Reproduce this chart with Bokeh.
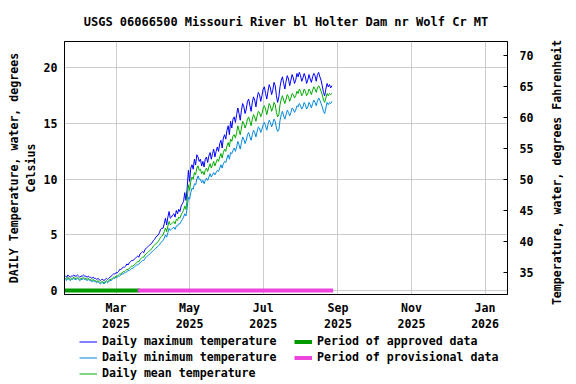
import pandas as pd
from bokeh.plotting import figure
from bokeh.layouts import column, row
from bokeh.models import (Range1d, LinearAxis, FixedTicker, Legend, LegendItem,
                          ColumnDataSource, Title)
from bokeh.embed import file_html
from bokeh.resources import INLINE

TITLE = "USGS 06066500 Missouri River bl Holter Dam nr Wolf Cr MT"
RIGHT_LABEL = "Temperature, water, degrees Fahrenheit"
LEFT_LABEL = "DAILY Temperature, water, degrees\nCelsius"
FIRST_DAY = "2025-01-18"

max_temp = [
    1.3, 1.2, 1.4, 1.3, 1.2, 1.3, 1.3,
    1.4, 1.3, 1.3, 1.4, 1.3, 1.2, 1.3,
    1.3, 1.4, 1.3, 1.3, 1.2, 1.3, 1.2,
    1.2, 1.1, 1.2, 1.1, 1.1, 1.0, 1.1,
    1.0, 0.9, 1.0, 1.0, 0.9, 1.0, 1.1,
    1.0, 1.1, 1.2, 1.3, 1.4, 1.5, 1.5,
    1.6, 1.6, 1.7, 1.9, 1.9, 2.0, 2.1,
    2.1, 2.2, 2.4, 2.3, 2.5, 2.6, 2.7,
    2.7, 2.8, 2.9, 3.0, 3.1, 3.0, 3.3,
    3.4, 3.5, 3.4, 3.7, 3.8, 3.9, 4.0,
    4.1, 4.2, 4.3, 4.5, 4.6, 4.8, 4.9,
    5.0, 5.2, 5.5, 5.6, 5.6, 6.0, 6.5,
    5.9, 6.6, 7.1, 6.5, 6.6, 6.8, 6.9,
    6.6, 7.2, 6.9, 7.3, 7.1, 7.6, 7.8,
    8.0, 8.8, 8.1, 9.2, 10.8, 9.8, 11.0,
    11.3, 10.9, 11.8, 11.3, 12.2, 12.0, 11.6,
    11.8, 11.2, 11.6, 11.1, 11.8, 12.0, 11.5,
    12.1, 12.4, 11.8, 12.3, 12.7, 12.0, 12.5,
    12.9, 12.5, 13.2, 13.5, 12.8, 13.7, 14.0,
    13.6, 14.4, 14.8, 14.0, 15.2, 14.6, 15.4,
    15.6, 15.1, 15.8, 16.4, 15.9, 15.3, 16.2,
    16.8, 16.5, 15.9, 16.3, 17.0, 17.2, 16.6,
    16.1, 16.9, 17.4, 17.1, 16.5, 17.3, 17.8,
    17.6, 17.0, 17.5, 18.1, 18.3, 17.7, 17.2,
    17.9, 18.5, 18.2, 17.6, 18.0, 18.7, 18.4,
    17.5, 16.9, 17.4, 18.3, 18.9, 19.2, 18.6,
    18.1, 18.8, 19.3, 19.0, 18.4, 18.9, 19.4,
    19.1, 18.6, 18.9, 19.5, 19.2, 19.6, 19.3,
    18.8, 19.1, 19.5, 19.2, 18.6, 18.9, 19.4,
    19.0, 18.7, 19.2, 19.5, 19.3, 18.8, 19.4,
    19.6, 19.2, 18.9, 18.4, 17.8, 17.5, 18.1,
    18.6, 18.3, 18.5, 18.2, 18.4,
]

min_temp = [
    1.0, 0.9, 1.1, 1.0, 0.9, 1.0, 1.0,
    1.1, 1.0, 1.0, 1.1, 1.0, 0.9, 1.0,
    1.0, 1.1, 1.0, 1.0, 0.9, 1.0, 0.9,
    0.9, 0.8, 0.9, 0.8, 0.8, 0.7, 0.8,
    0.7, 0.6, 0.7, 0.7, 0.6, 0.7, 0.8,
    0.7, 0.8, 0.9, 0.9, 1.0, 1.1, 1.1,
    1.2, 1.2, 1.3, 1.3, 1.4, 1.5, 1.5,
    1.6, 1.6, 1.7, 1.8, 1.8, 1.9, 2.0,
    2.0, 2.1, 2.2, 2.3, 2.3, 2.4, 2.5,
    2.6, 2.7, 2.7, 2.9, 3.0, 3.1, 3.2,
    3.3, 3.4, 3.5, 3.6, 3.7, 3.8, 3.9,
    4.0, 4.1, 4.3, 4.4, 4.5, 4.7, 5.0,
    4.8, 5.2, 5.6, 5.4, 5.5, 5.6, 5.7,
    5.5, 5.8, 5.8, 6.0, 6.0, 6.2, 6.4,
    6.6, 6.9, 6.7, 7.4, 8.4, 8.2, 8.8,
    9.2, 9.1, 9.6, 9.5, 10.0, 10.3, 10.0,
    10.0, 9.7, 9.9, 9.6, 9.9, 10.1, 9.9,
    10.2, 10.5, 10.2, 10.4, 10.6, 10.4, 10.6,
    10.8, 10.7, 11.0, 11.3, 11.0, 11.4, 11.6,
    11.5, 11.9, 12.2, 11.8, 12.4, 12.3, 12.6,
    12.8, 12.5, 12.9, 13.4, 13.1, 12.7, 13.3,
    13.8, 13.6, 13.2, 13.5, 14.0, 14.2, 13.8,
    13.5, 14.0, 14.4, 14.2, 13.8, 14.3, 14.7,
    14.6, 14.2, 14.5, 14.9, 15.1, 14.8, 14.4,
    14.9, 15.3, 15.1, 14.7, 15.0, 15.4, 15.2,
    14.6, 14.3, 14.4, 15.3, 15.8, 16.1, 15.7,
    15.4, 15.8, 16.2, 16.0, 15.7, 16.0, 16.4,
    16.3, 16.0, 16.2, 16.6, 16.5, 16.8, 16.6,
    16.3, 16.5, 16.9, 16.7, 16.3, 16.5, 16.9,
    16.7, 16.4, 16.8, 17.1, 16.9, 16.6, 17.0,
    17.3, 17.1, 16.8, 16.5, 16.1, 15.9, 16.4,
    16.9, 16.7, 16.9, 16.8, 17.0,
]

mean_temp = [
    1.1, 1.0, 1.2, 1.1, 1.0, 1.1, 1.1,
    1.2, 1.1, 1.1, 1.2, 1.1, 1.0, 1.1,
    1.1, 1.2, 1.1, 1.1, 1.0, 1.1, 1.0,
    1.0, 0.9, 1.0, 0.9, 0.9, 0.8, 0.9,
    0.8, 0.7, 0.8, 0.8, 0.7, 0.8, 0.9,
    0.8, 0.9, 1.0, 1.0, 1.1, 1.2, 1.2,
    1.3, 1.3, 1.4, 1.5, 1.5, 1.6, 1.7,
    1.7, 1.8, 1.9, 1.9, 2.0, 2.1, 2.2,
    2.2, 2.3, 2.4, 2.5, 2.6, 2.6, 2.8,
    2.9, 3.0, 3.0, 3.2, 3.3, 3.4, 3.5,
    3.6, 3.7, 3.8, 4.0, 4.1, 4.2, 4.3,
    4.4, 4.6, 4.8, 4.9, 5.0, 5.3, 5.6,
    5.3, 5.8, 6.2, 5.9, 6.0, 6.1, 6.2,
    6.0, 6.4, 6.3, 6.6, 6.5, 6.8, 7.0,
    7.2, 7.6, 7.3, 8.2, 9.5, 9.0, 9.8,
    10.2, 10.0, 10.6, 10.4, 11.0, 11.2, 10.8,
    10.9, 10.5, 10.7, 10.4, 10.8, 11.0, 10.7,
    11.1, 11.4, 11.0, 11.3, 11.6, 11.2, 11.5,
    11.8, 11.6, 12.0, 12.3, 11.9, 12.4, 12.7,
    12.5, 13.0, 13.3, 12.9, 13.6, 13.4, 13.9,
    14.0, 13.7, 14.2, 14.8, 14.4, 14.0, 14.6,
    15.2, 15.0, 14.6, 14.9, 15.4, 15.6, 15.2,
    14.8, 15.4, 15.8, 15.6, 15.2, 15.7, 16.1,
    16.0, 15.6, 15.9, 16.4, 16.6, 16.3, 15.8,
    16.3, 16.8, 16.6, 16.1, 16.4, 16.9, 16.7,
    16.0, 15.6, 15.8, 16.7, 17.2, 17.5, 17.1,
    16.8, 17.2, 17.6, 17.4, 17.0, 17.3, 17.7,
    17.6, 17.3, 17.5, 17.9, 17.7, 18.1, 17.9,
    17.5, 17.7, 18.1, 17.9, 17.5, 17.7, 18.1,
    17.9, 17.6, 18.0, 18.3, 18.1, 17.8, 18.2,
    18.4, 18.2, 17.9, 17.6, 17.1, 16.9, 17.3,
    17.7, 17.5, 17.7, 17.6, 17.7,
]

approved_period = ["2025-01-18", "2025-03-19"]
provisional_period = ["2025-03-19", "2025-08-28"]

x_tick_dates = ["2025-03-01", "2025-05-01", "2025-07-01",
                "2025-09-01", "2025-11-01", "2026-01-01"]
x_tick_labels = ["Mar\n2025", "May\n2025", "Jul\n2025",
                 "Sep\n2025", "Nov\n2025", "Jan\n2026"]
y_ticks_c = [0, 5, 10, 15, 20]
y_ticks_f = [35, 40, 45, 50, 55, 60, 65, 70]

legend_labels = ["Daily maximum temperature", "Daily minimum temperature",
                 "Daily mean temperature", "Period of approved data",
                 "Period of provisional data"]

FONT = "DejaVu Sans Mono"
FS = "11.6px"
COL_MAX, COL_MIN, COL_MEAN = "#0000ff", "#0088dd", "#00aa00"
COL_APP, COL_PROV = "#009900", "#ee44dd"

MAIN_W = 546


def ms(d):
    return int(pd.Timestamp(d).value // 10**6)


dates = pd.date_range(FIRST_DAY, periods=len(mean_temp), freq="D")
src = ColumnDataSource(dict(date=dates, tmax=max_temp, tmin=min_temp, tmean=mean_temp))
app_x = [pd.Timestamp(d) for d in approved_period]
prov_x = [pd.Timestamp(d) for d in provisional_period]

c_lo, c_hi = -0.35, 22.37
x_lo = pd.Timestamp("2025-01-17 07:00")
x_hi = pd.Timestamp("2026-01-19 14:00")

p = figure(width=MAIN_W, height=334, x_axis_type="datetime",
           x_range=Range1d(x_lo, x_hi), y_range=Range1d(c_lo, c_hi),
           output_backend="svg", toolbar_location=None,
           min_border_left=64, min_border_right=MAIN_W - 507,
           min_border_top=39, min_border_bottom=37)

p.title.text = TITLE
p.title.align = "center"
p.title.text_font = FONT
p.title.text_font_size = "12px"
p.title.text_font_style = "bold"
p.title.text_color = "black"
p.title.standoff = 25

p.outline_line_color = "black"
p.outline_line_alpha = 1
p.outline_line_width = 1
p.background_fill_color = "white"
p.border_fill_color = "white"

# x axis
xa = p.xaxis[0]
xa.ticker = FixedTicker(ticks=[ms(d) for d in x_tick_dates])
xa.major_label_overrides = {ms(d): lab for d, lab in zip(x_tick_dates, x_tick_labels)}
xa.major_tick_out = 0
xa.major_tick_in = 0
xa.minor_tick_out = 0
xa.minor_tick_in = 0
xa.major_label_standoff = 6
xa.major_label_text_font = FONT
xa.major_label_text_font_size = FS
xa.major_label_text_font_style = "bold"
xa.major_label_text_color = "black"
xa.axis_line_color = "black"

# left axis
ya = p.yaxis[0]
ya.ticker = FixedTicker(ticks=y_ticks_c)
ya.major_tick_out = 0
ya.major_tick_in = 0
ya.minor_tick_out = 0
ya.minor_tick_in = 0
ya.major_label_standoff = 7
ya.major_label_text_font = FONT
ya.major_label_text_font_size = FS
ya.major_label_text_font_style = "bold"
ya.major_label_text_color = "black"
ya.axis_label = LEFT_LABEL
ya.axis_label_text_font = FONT
ya.axis_label_text_font_size = FS
ya.axis_label_text_font_style = "bold"
ya.axis_label_text_color = "black"
ya.axis_label_standoff = 3
ya.axis_line_color = "black"

# right axis (Fahrenheit)
p.extra_y_ranges = {"F": Range1d(c_lo * 1.8 + 32, c_hi * 1.8 + 32)}
ra = LinearAxis(y_range_name="F", ticker=FixedTicker(ticks=y_ticks_f))
ra.major_tick_in = 4
ra.major_tick_out = 0
ra.minor_tick_in = 0
ra.minor_tick_out = 0
ra.major_label_standoff = 12
ra.major_label_text_font = FONT
ra.major_label_text_font_size = FS
ra.major_label_text_font_style = "bold"
ra.major_label_text_color = "black"
ra.axis_line_color = "black"
p.add_layout(ra, "right")

for g in (p.xgrid[0], p.ygrid[0]):
    g.grid_line_color = "#cccccc"
    g.grid_line_width = 1
    g.grid_line_alpha = 1
p.ygrid[0].ticker = FixedTicker(ticks=y_ticks_c)


def draw(fig, bar_caps):
    r1 = fig.line("date", "tmax", source=src, line_color=COL_MAX, line_width=1)
    r2 = fig.line("date", "tmin", source=src, line_color=COL_MIN, line_width=1)
    r3 = fig.line("date", "tmean", source=src, line_color=COL_MEAN, line_width=1)
    r4 = fig.segment(x0=[app_x[0]], x1=[app_x[1]], y0=[0], y1=[0],
                     line_color=COL_APP, line_width=4, line_cap=bar_caps[0])
    r5 = fig.segment(x0=[prov_x[0]], x1=[prov_x[1]], y0=[0], y1=[0],
                     line_color=COL_PROV, line_width=4, line_cap=bar_caps[1])
    return [r1, r2, r3, r4, r5]


draw(p, ("square", "butt"))

# legend strip below the plot (same data, drawn outside its visible range)
lg = figure(width=MAIN_W, height=50, x_axis_type="datetime",
            x_range=Range1d(0, 1), y_range=Range1d(-100, -99),
            output_backend="svg", toolbar_location=None,
            x_axis_location=None, y_axis_location=None,
            min_border=0, min_border_left=0, min_border_right=0,
            min_border_top=0, min_border_bottom=0)
lg.outline_line_color = None
lg.xgrid.visible = False
lg.ygrid.visible = False
lg.background_fill_color = "white"
lg.border_fill_color = "white"
renderers = draw(lg, ("butt", "butt"))

order = [0, 3, 1, 4, 2]
items = [LegendItem(label=legend_labels[i], renderers=[renderers[i]]) for i in order]
legend = Legend(items=items, location=(15, 4), orientation="horizontal", ncols=2,
                glyph_width=18, glyph_height=13, label_height=13, label_width=190,
                label_standoff=5, spacing=2, padding=0, margin=0,
                label_text_font=FONT, label_text_font_size=FS,
                label_text_font_style="bold", label_text_color="black",
                border_line_alpha=0, background_fill_alpha=0)
lg.add_layout(legend)

# right-hand strip carrying the Fahrenheit axis title (reads bottom to top)
side = figure(width=576 - MAIN_W, height=344, x_range=Range1d(0, 1), y_range=Range1d(0, 1),
              output_backend="svg", toolbar_location=None,
              x_axis_location=None, y_axis_location=None,
              min_border=0, min_border_left=0, min_border_right=0,
              min_border_top=0, min_border_bottom=0)
side.outline_line_color = None
side.xgrid.visible = False
side.ygrid.visible = False
side.background_fill_color = "white"
side.border_fill_color = "white"
side.add_layout(Title(text=RIGHT_LABEL, align="center", text_font=FONT,
                      text_font_size=FS, text_font_style="bold", text_color="black",
                      standoff=2, offset=0), "left")

layout = row(column(p, lg, spacing=0), side, spacing=0)
open("out.html", "w").write(file_html(layout, INLINE))
